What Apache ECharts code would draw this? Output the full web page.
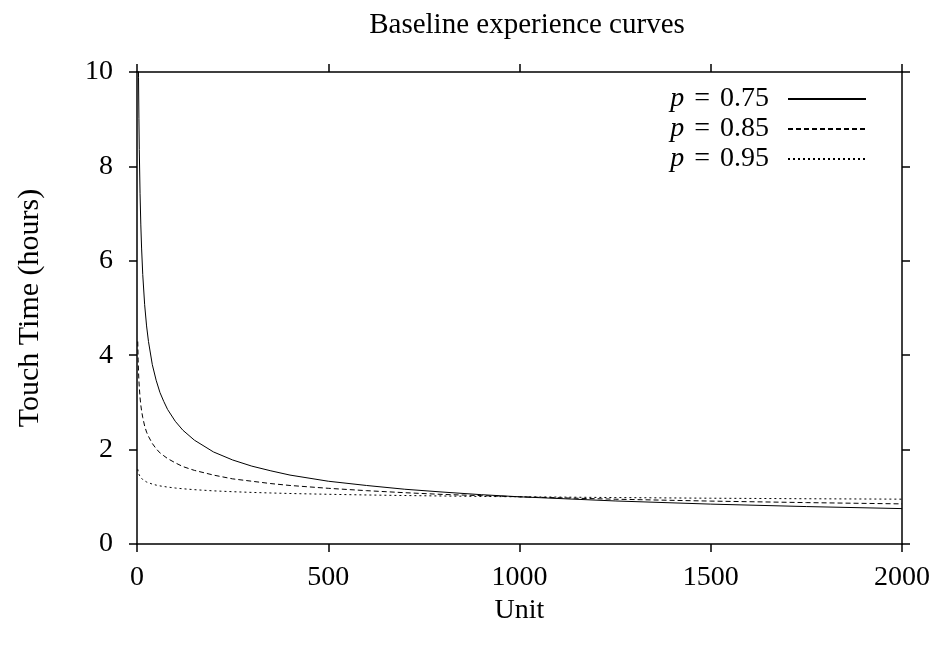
<!DOCTYPE html>
<html><head><meta charset="utf-8">
<script src="https://cdn.jsdelivr.net/npm/echarts@6/dist/echarts.min.js"></script>
<style>html,body{margin:0;padding:0;background:#fff}#c{width:940px;height:645px}</style>
</head><body><div id="c"></div>
<script>
const units = [2,3,4,5,6,8,10,12,15,20,25,30,40,50,60,70,80,100,120,150,200,250,300,350,400,500,600,700,800,900,1000,1250,1500,1750,2000];
const p75 = [13.19,11.14,9.89,9.02,8.36,7.42,6.76,6.27,5.71,5.07,4.62,4.29,3.80,3.47,3.21,3.02,2.85,2.60,2.41,2.20,1.95,1.78,1.65,1.55,1.46,1.33,1.24,1.16,1.10,1.045,1.00,0.912,0.845,0.793,0.75];
const p85 = [4.29,3.90,3.65,3.46,3.32,3.10,2.94,2.82,2.68,2.50,2.37,2.28,2.13,2.02,1.93,1.87,1.81,1.72,1.64,1.56,1.46,1.38,1.33,1.28,1.24,1.18,1.13,1.087,1.05,1.025,1.00,0.949,0.909,0.877,0.85];
const p95 = [1.584,1.537,1.505,1.480,1.460,1.429,1.406,1.387,1.365,1.336,1.314,1.296,1.269,1.248,1.231,1.218,1.206,1.186,1.170,1.151,1.126,1.108,1.093,1.081,1.070,1.053,1.039,1.027,1.017,1.008,1.00,0.984,0.970,0.959,0.95];
const seriesNames = ['p = 0.75','p = 0.85','p = 0.95'];
const seriesValues = [p75, p85, p95];
const dashes = ['solid',[5,3],[2,3]];

const font = 'Liberation Serif';
const chart = echarts.init(document.getElementById('c'), null, {renderer:'canvas'});
const axisLine = {show:true, onZero:false, lineStyle:{color:'#000', width:1.5}};
const tick = {show:true, inside:false, length:8, lineStyle:{color:'#000', width:1.5}};
const numFmt = v => String(v);
chart.setOption({
  animation:false,
  backgroundColor:'#fff',
  textStyle:{fontFamily:font, color:'#000'},
  title:{text:'Baseline experience curves', left:522, top:6, textAlign:'center',
    textStyle:{fontFamily:font, fontWeight:'normal', fontSize:29, color:'#000'}},
  grid:{left:137, right:38, top:72, bottom:101, show:false},
  legend:{
    orient:'vertical', right:68, top:80, align:'right', itemGap:2,
    itemWidth:78, itemHeight:14,
    itemStyle:{color:'transparent', borderColor:'transparent', borderWidth:0},
    data: seriesNames.map(n=>({name:n})),
    formatter: n => '{i|p}{e|=}' + n.slice(4),
    textStyle:{fontFamily:font, fontSize:28, lineHeight:28, color:'#000', padding:[0,14,0,0],
      rich:{i:{fontFamily:font, fontStyle:'italic', fontSize:28, color:'#000'},
            e:{fontFamily:font, fontSize:28, color:'#000', padding:[0,10,0,10]}}}
  },
  xAxis:[
    {type:'value', min:0, max:2000, interval:500, position:'bottom',
      name:'Unit', nameLocation:'middle', nameGap:50,
      nameTextStyle:{fontFamily:font, fontSize:28, color:'#000'},
      axisLine:axisLine, axisTick:tick, splitLine:{show:false},
      axisLabel:{fontFamily:font, fontSize:28, color:'#000', margin:20, formatter:numFmt}},
    {type:'value', min:0, max:2000, interval:500, position:'top',
      axisLine:axisLine, axisTick:tick, splitLine:{show:false}, axisLabel:{show:false}}
  ],
  yAxis:[
    {type:'value', min:0, max:10, interval:2, position:'left',
      name:'Touch Time (hours)', nameLocation:'middle', nameGap:92, nameRotate:90,
      nameTextStyle:{fontFamily:font, fontSize:30, color:'#000'},
      axisLine:axisLine, axisTick:tick, splitLine:{show:false},
      axisLabel:{fontFamily:font, fontSize:28, color:'#000', margin:24, formatter:numFmt}},
    {type:'value', min:0, max:10, interval:2, position:'right',
      axisLine:axisLine, axisTick:tick, splitLine:{show:false}, axisLabel:{show:false}}
  ],
  series: seriesNames.map((n,k)=>({
    name:n, type:'line', xAxisIndex:0, yAxisIndex:0, showSymbol:false, symbol:'none',
    smooth:false, clip:true,
    lineStyle:{color:'#000', width:1, type:dashes[k]},
    itemStyle:{color:'#000'},
    data: units.map((u,i)=>[u, seriesValues[k][i]])
  }))
});
</script></body></html>
